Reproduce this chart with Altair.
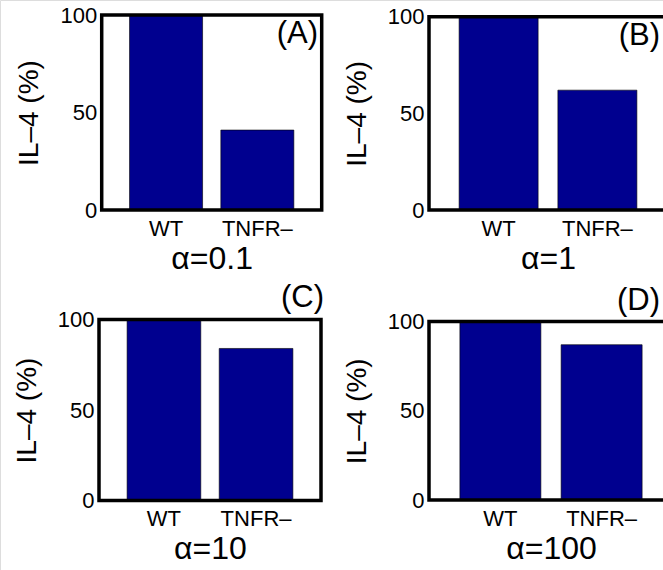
import altair as alt
import pandas as pd

W, H = 663, 570
FONT = "Liberation Sans"
BAR_COLOR = "#00008F"

categories = ["WT", "TNFR–"]
panel_labels = ["(A)", "(B)", "(C)", "(D)"]
alpha_titles = ["α=0.1", "α=1", "α=10", "α=100"]
il4_percent = [[100, 41], [100, 62], [100, 84], [100, 87]]
y_ticks = [0, 50, 100]

# plot boxes in pixels: (left, right, top, bottom)
boxes = [(101.7, 321.7, 15.0, 210.0),
         (429.0, 667.0, 16.7, 210.0),
         (99.0, 321.0, 319.5, 500.5),
         (429.0, 673.0, 321.5, 500.0)]
# panel label anchors (right edge, baseline)
label_pos = [(318, 43), (660, 45), (324, 307), (660, 310)]


def panel(i):
    x0, x1, y0, y1 = boxes[i]
    df = pd.DataFrame({"genotype": categories, "il4": il4_percent[i]})
    bars = alt.Chart(df).mark_bar(
        color=BAR_COLOR, stroke="black", strokeWidth=0.6
    ).encode(
        x=alt.X(
            "genotype:N",
            sort=categories,
            scale=alt.Scale(type="band", domain=categories, range=[x0, x1],
                            paddingInner=0.2, paddingOuter=0.305),
            axis=alt.Axis(orient="bottom", offset=y1 - H, title=alpha_titles[i],
                          labelAngle=0, ticks=False, domain=False, grid=False,
                          labelFont=FONT, labelFontSize=22, labelColor="black",
                          labelPadding=8, titleFont=FONT, titleFontSize=32,
                          titleFontWeight="normal", titleColor="black",
                          titlePadding=4),
        ),
        y=alt.Y(
            "il4:Q",
            scale=alt.Scale(domain=[0, 100], range=[y1, y0], nice=False, zero=True),
            axis=alt.Axis(orient="left", offset=-x0, values=y_ticks, title="IL–4 (%)",
                          ticks=False, domain=False, grid=False,
                          labelFont=FONT, labelFontSize=22, labelColor="black",
                          labelPadding=5, titleFont=FONT, titleFontSize=28,
                          titleFontWeight="normal", titleColor="black",
                          titlePadding=16),
        ),
    )
    lab = pd.DataFrame({"panel": [panel_labels[i]]})
    frame = alt.Chart(lab).mark_rect(
        fillOpacity=0, stroke="black", strokeWidth=3.5
    ).encode(x=alt.value(x0), x2=alt.value(x1), y=alt.value(y0), y2=alt.value(y1))
    lx, ly = label_pos[i]
    text = alt.Chart(lab).mark_text(
        font=FONT, fontSize=31, align="right", baseline="alphabetic", color="black"
    ).encode(text="panel:N", x=alt.value(lx), y=alt.value(ly))
    return [bars, frame, text]


layers = []
for i in range(4):
    layers.extend(panel(i))

chart = alt.layer(*layers).resolve_scale(
    x="independent", y="independent"
).resolve_axis(
    x="independent", y="independent"
).properties(
    width=W, height=H, padding=0,
    autosize=alt.AutoSizeParams(type="none"),
).configure_view(stroke=None).configure(background="white")

chart.save("out.html", embed_options={"renderer": "svg", "actions": False})
